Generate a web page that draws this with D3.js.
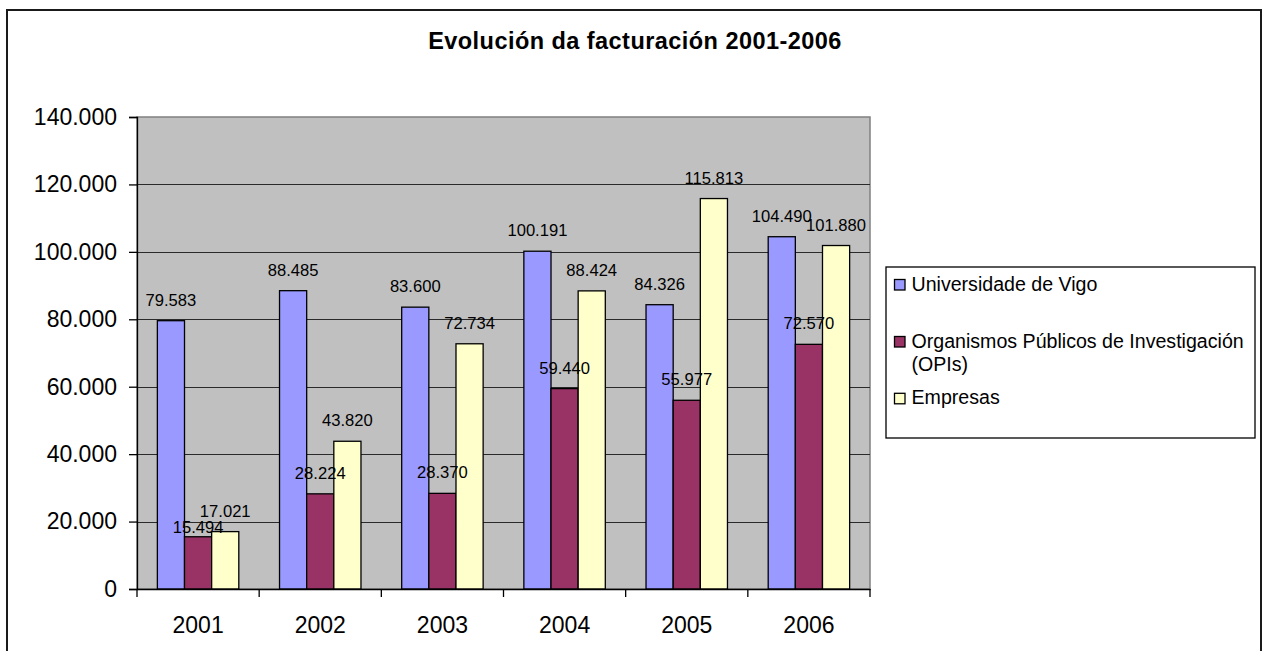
<!DOCTYPE html>
<html>
<head>
<meta charset="utf-8">
<script src="https://cdn.jsdelivr.net/npm/d3@7"></script>
<style>
  html, body { margin: 0; padding: 0; background: #fff; }
  svg { display: block; }
  text { font-family: "Liberation Sans", Arial, sans-serif; fill: #000; }
</style>
</head>
<body>
<svg id="chart" width="1268" height="651"></svg>
<script>
const years = ["2001", "2002", "2003", "2004", "2005", "2006"];
const seriesNames = ["Universidade de Vigo", "Organismos Públicos de Investigación (OPIs)", "Empresas"];
const legendLines = [["Universidade de Vigo"], ["Organismos Públicos de Investigación", "(OPIs)"], ["Empresas"]];
const uvigo = [79583, 88485, 83600, 100191, 84326, 104490];
const opis = [15494, 28224, 28370, 59440, 55977, 72570];
const empresas = [17021, 43820, 72734, 88424, 115813, 101880];
const yTicks = [0, 20000, 40000, 60000, 80000, 100000, 120000, 140000];
const colors = ["#9999FF", "#993366", "#FFFFCC"];
const title = "Evolución da facturación 2001-2006";

const seriesValues = [uvigo, opis, empresas];

const svg = d3.select("#chart");
const locale = d3.formatLocale({ decimal: ",", thousands: ".", grouping: [3], currency: ["", "€"] });
const fmt = locale.format(",d");

const plot = { left: 137, right: 870, top: 117, bottom: 589 };
const labelSize = 16.6;

// Outer chart frame
svg.append("rect")
  .attr("x", 7).attr("y", 10)
  .attr("width", 1254).attr("height", 660)
  .attr("fill", "#fff").attr("stroke", "#1a1a1a").attr("stroke-width", 2);

// Title
svg.append("text")
  .attr("x", 635).attr("y", 48.5)
  .attr("text-anchor", "middle")
  .attr("font-size", 23.5).attr("font-weight", "bold")
  .attr("letter-spacing", 0.45)
  .text(title);

const x = d3.scaleBand().domain(years).range([plot.left, plot.right]).paddingInner(0).paddingOuter(0);
const xs = d3.scaleBand().domain(d3.range(3)).range([0, x.bandwidth()]).paddingInner(0).paddingOuter(0.75);
const y = d3.scaleLinear().domain([0, 140000]).range([plot.bottom, plot.top]);

// Plot area
svg.append("rect")
  .attr("x", plot.left).attr("y", plot.top)
  .attr("width", plot.right - plot.left).attr("height", plot.bottom - plot.top)
  .attr("fill", "#C0C0C0").attr("stroke", "#808080").attr("stroke-width", 1.5);

// Gridlines
svg.append("g").selectAll("line")
  .data(yTicks.filter(t => t > 0 && t < 140000))
  .join("line")
  .attr("x1", plot.left).attr("x2", plot.right)
  .attr("y1", d => Math.round(y(d)) + 0.5).attr("y2", d => Math.round(y(d)) + 0.5)
  .attr("stroke", "#2a2a2a").attr("stroke-width", 1);

// Bars
const groups = svg.append("g").selectAll("g")
  .data(years)
  .join("g")
  .attr("transform", d => `translate(${x(d)},0)`);

groups.selectAll("rect")
  .data((yr, i) => seriesValues.map((vals, s) => ({ s, v: vals[i] })))
  .join("rect")
  .attr("x", d => xs(d.s))
  .attr("width", xs.bandwidth())
  .attr("y", d => y(d.v))
  .attr("height", d => y(0) - y(d.v))
  .attr("fill", d => colors[d.s])
  .attr("stroke", "#000").attr("stroke-width", 1.3);

// Data labels (with simple collision handling between neighbouring labels)
function labelData(i) {
  const items = seriesValues.map((vals, s) => ({ s, v: vals[i], ly: y(vals[i]) - 15 }));
  for (let s = 0; s < items.length - 1; s++) {
    const a = items[s], b = items[s + 1];
    if (Math.abs(a.ly - b.ly) < labelSize && a.ly > b.ly) {
      a.ly = y(a.v) - 4;
    }
  }
  return items;
}

groups.selectAll("text")
  .data((yr, i) => labelData(i))
  .join("text")
  .attr("x", d => xs(d.s) + xs.bandwidth() / 2)
  .attr("y", d => d.ly)
  .attr("text-anchor", "middle")
  .attr("font-size", labelSize)
  .text(d => fmt(d.v));

// Y axis
const yAxis = d3.axisLeft(y).tickValues(yTicks).tickFormat(d => fmt(d)).tickSize(8).tickPadding(12);
const yg = svg.append("g").attr("transform", `translate(${plot.left},0)`).call(yAxis);
yg.select(".domain").attr("stroke", "#000").attr("stroke-width", 1.3);
yg.selectAll(".tick line").attr("stroke", "#000").attr("stroke-width", 1.3);
yg.selectAll(".tick text").attr("font-size", 23).attr("font-family", "Liberation Sans, Arial, sans-serif").attr("fill", "#000");

// X axis
const xAxis = d3.axisBottom(x).tickSize(0).tickPadding(28);
const xg = svg.append("g").attr("transform", `translate(0,${plot.bottom})`).call(xAxis);
xg.select(".domain").attr("stroke", "#000").attr("stroke-width", 1.3);
xg.selectAll(".tick text").attr("font-size", 23).attr("font-family", "Liberation Sans, Arial, sans-serif").attr("fill", "#000");
// Category separator ticks
const bounds = years.map(d => x(d)).concat([x(years[years.length - 1]) + x.bandwidth()]);
xg.append("g").selectAll("line")
  .data(bounds)
  .join("line")
  .attr("x1", d => d).attr("x2", d => d)
  .attr("y1", 0).attr("y2", 8)
  .attr("stroke", "#000").attr("stroke-width", 1.3);

// Legend
const lg = svg.append("g");
lg.append("rect")
  .attr("x", 886).attr("y", 267).attr("width", 369).attr("height", 171)
  .attr("fill", "#fff").attr("stroke", "#000").attr("stroke-width", 1.3);

const legendRowY = [290.5, 347.5, 404.3];
seriesNames.forEach((name, i) => {
  lg.append("rect")
    .attr("x", 894.5).attr("y", legendRowY[i] - 11)
    .attr("width", 10.5).attr("height", 10.5)
    .attr("fill", colors[i]).attr("stroke", "#000").attr("stroke-width", 1.3);
  const t = lg.append("text")
    .attr("x", 911.5).attr("y", legendRowY[i])
    .attr("font-size", 19.6);
  legendLines[i].forEach((line, j) => {
    t.append("tspan").attr("x", 911.5).attr("dy", j === 0 ? 0 : 23.5).text(line);
  });
});
</script>
</body>
</html>
